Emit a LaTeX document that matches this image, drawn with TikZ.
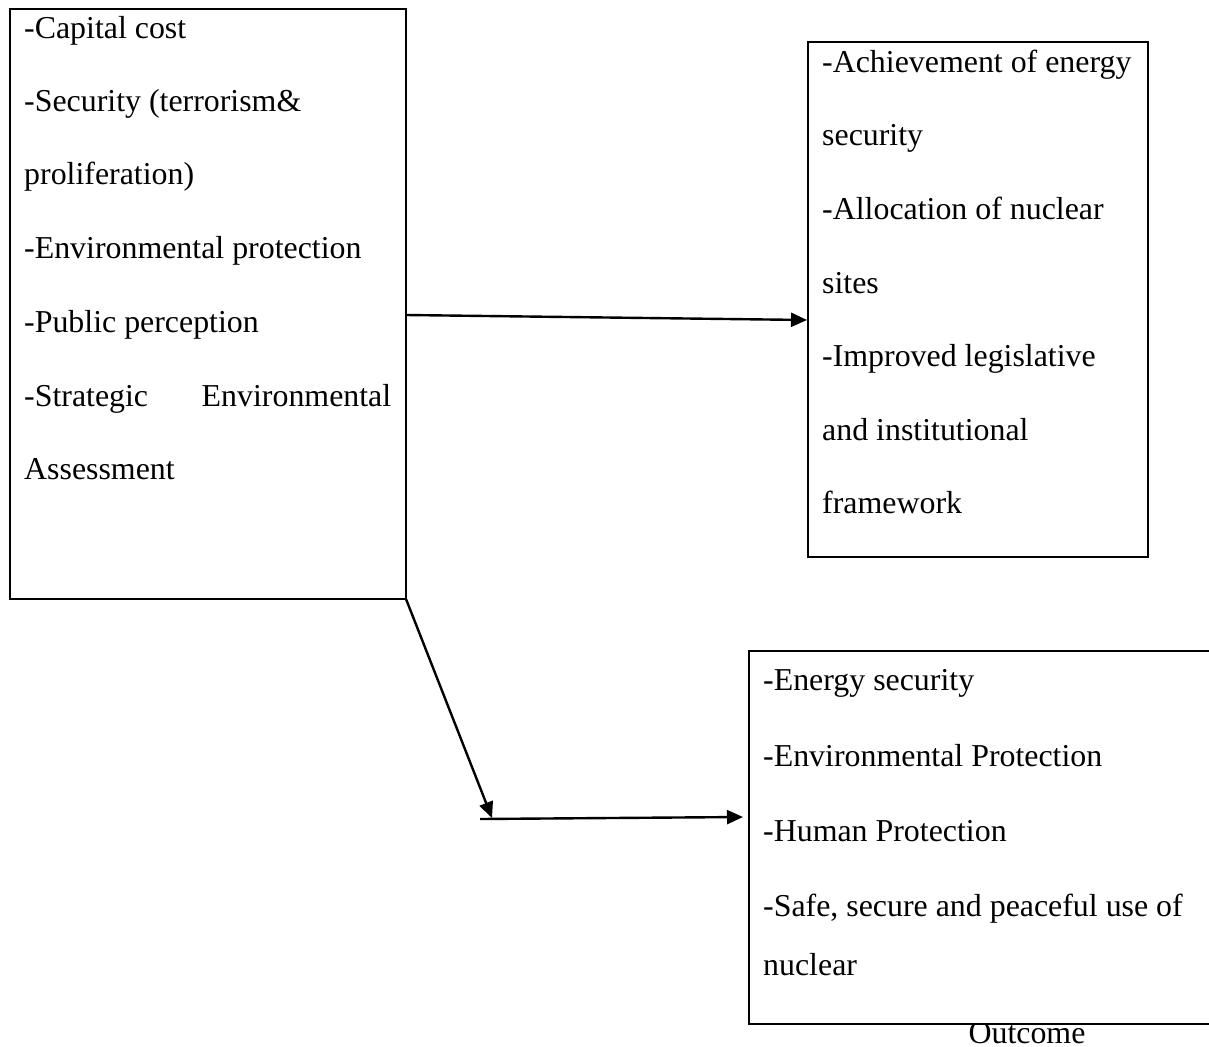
\documentclass[tikz,border=0pt]{standalone}
\usepackage{fontspec}
\setmainfont{Liberation Serif}
\usetikzlibrary{arrows.meta}
\begin{document}
\begin{tikzpicture}[x=1bp,y=-1bp,
  boxstyle/.style={draw,line width=2.4bp,fill=white,inner sep=0pt,outer sep=0pt},
  txt/.style={anchor=base west,inner sep=0pt,font=\fontsize{32}{36}\selectfont},
  conn/.style={line width=2.4bp,-{Triangle[length=16bp,width=14bp]}},
  plain/.style={line width=2.4bp}]
\useasboundingbox (0,0) rectangle (1209,1047);
% Outcome label (drawn first so box edge sits on top)
\node[txt,anchor=base] (outc) at (1027,1043) {Outcome};
% boxes
\node[boxstyle,minimum width=396bp,minimum height=590bp,anchor=north west] (b1) at (10,9) {};
\node[boxstyle,minimum width=340bp,minimum height=515bp,anchor=north west] (b2) at (808,42) {};
\node[boxstyle,minimum width=466bp,minimum height=373bp,anchor=north west] (b3) at (749,651) {};
% box 1 text
\node[txt] (t11) at (24,38) {-Capital cost};
\node[txt] (t12) at (24,111) {-Security (terrorism\&};
\node[txt] (t13) at (24,184) {proliferation)};
\node[txt] (t14) at (24,258) {-Environmental protection};
\node[txt] (t15) at (24,332) {-Public perception};
\node[txt] (t16) at (24,406) {\makebox[367bp][s]{-Strategic\hfill Environmental}};
\node[txt] (t17) at (24,479) {Assessment};
% box 2 text
\node[txt] (t21) at (822,72) {-Achievement of energy};
\node[txt] (t22) at (822,145) {security};
\node[txt] (t23) at (822,219) {-Allocation of nuclear};
\node[txt] (t24) at (822,293) {sites};
\node[txt] (t25) at (822,366) {-Improved legislative};
\node[txt] (t26) at (822,440) {and institutional};
\node[txt] (t27) at (822,513) {framework};
% box 3 text
\node[txt] (t31) at (763,690) {-Energy security};
\node[txt] (t32) at (763,766) {-Environmental Protection};
\node[txt] (t33) at (763,841) {-Human Protection};
\node[txt] (t34) at (763,916) {-Safe, secure and peaceful use of};
\node[txt] (t35) at (763,975) {nuclear};
% connectors
\coordinate (s1) at (406,315);
\coordinate (e1) at (807,320);
\draw[conn] (s1) -- (e1);
\coordinate (j) at (492,818);
\draw[conn] (b1.south east) -- (j);
\coordinate (h0) at (480,819);
\coordinate (e2) at (743,817);
\draw[conn] (h0) -- (e2);
\end{tikzpicture}
\end{document}
